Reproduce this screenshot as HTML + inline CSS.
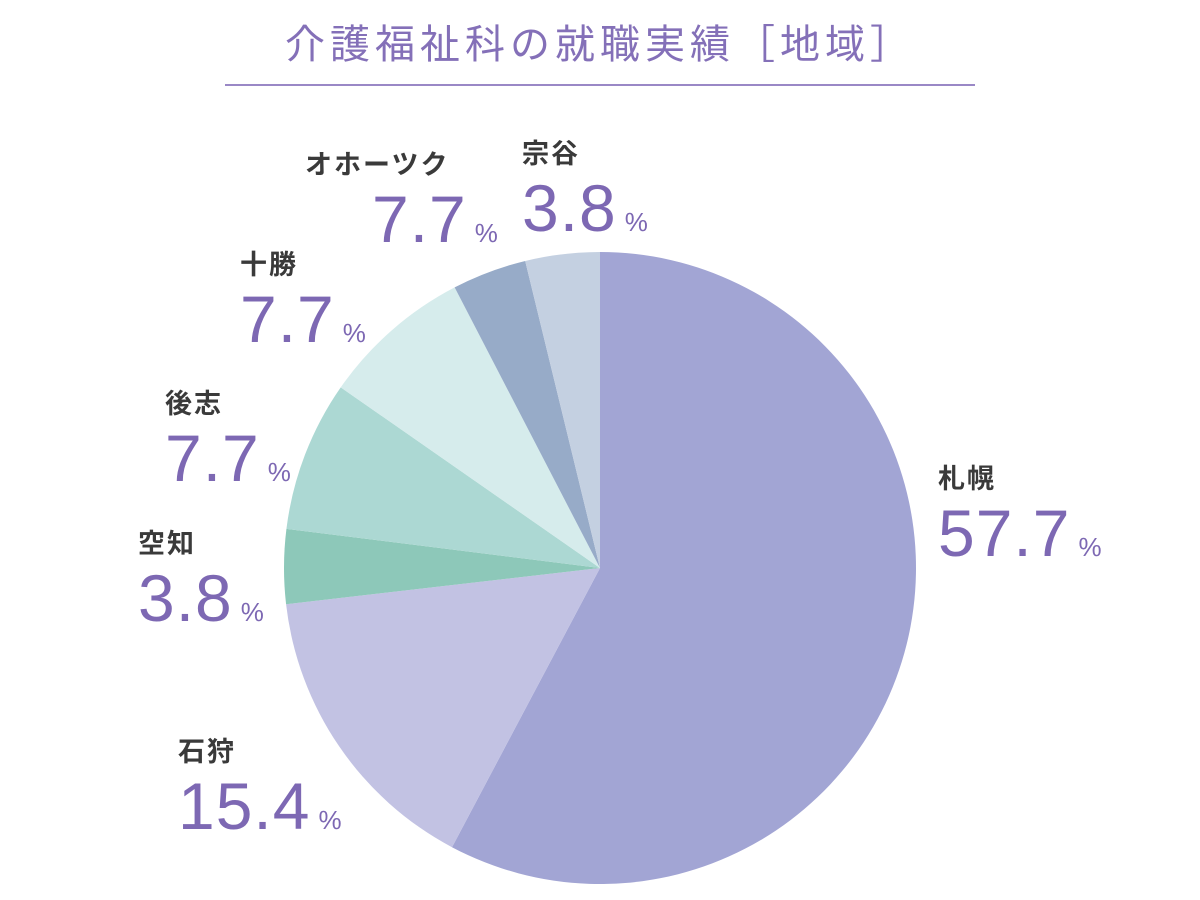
<!DOCTYPE html>
<html><head><meta charset="utf-8"><style>
html,body{margin:0;padding:0;background:#fff;}
body{width:1200px;height:900px;position:relative;overflow:hidden;font-family:"Liberation Sans","Noto Sans CJK JP",sans-serif;}
#title{position:absolute;left:0;width:1200px;top:12px;text-align:center;font-size:40px;color:#8470b8;letter-spacing:5px;}
#rule{position:absolute;left:225px;top:84px;width:750px;height:2px;background:#9a88c6;}
.lbl{position:absolute;}
.nm{font-size:27px;font-weight:bold;color:#3a3a3a;letter-spacing:2px;line-height:30px;font-family:"Noto Sans CJK JP",sans-serif;}
.pc{font-size:66px;color:#7d68b3;line-height:66px;letter-spacing:1px;margin-top:8px;white-space:nowrap;}
.pc span{font-size:26px;margin-left:8px;}
</style></head><body>
<div id="title">介護福祉科の就職実績［地域］</div>
<div id="rule"></div>
<svg id="pie" width="1200" height="900" style="position:absolute;left:0;top:0"></svg>
<div id="labels"></div>
<script>
const regions=["札幌","石狩","空知","後志","十勝","オホーツク","宗谷"];
const percents=[57.7,15.4,3.8,7.7,7.7,7.7,3.8];
const sliceValues=[57.7,15.4,3.8,7.7,7.7,3.8,3.8];
const colors=["#a2a5d4","#c2c2e3","#8dc8b9","#acd8d3","#d6ecec","#97abc8","#c4d0e1"];
const labelPos=[[938,462],[178,735],[138,527],[165,387],[240,248],[305,148],[522,137]];
const numOffset=[0,0,0,0,0,67,0];
const cx=600,cy=568,r=316;
const svg=document.getElementById('pie');
const total=sliceValues.reduce((a,b)=>a+b,0);
function pt(a){return [cx+r*Math.sin(a),cy-r*Math.cos(a)];}
let acc=0;
sliceValues.forEach((v,i)=>{
  const a0=acc/total*2*Math.PI; acc+=v; const a1=acc/total*2*Math.PI;
  const p0=pt(a0),p1=pt(a1);
  const large=(a1-a0)>Math.PI?1:0;
  const p=document.createElementNS('http://www.w3.org/2000/svg','path');
  p.setAttribute('d',`M${cx},${cy}L${p0[0]},${p0[1]}A${r},${r} 0 ${large} 1 ${p1[0]},${p1[1]}Z`);
  p.setAttribute('fill',colors[i]);
  
  
  svg.appendChild(p);
});
const L=document.getElementById('labels');
regions.forEach((n,i)=>{
  const d=document.createElement('div');
  d.className='lbl';
  d.style.left=labelPos[i][0]+'px';d.style.top=labelPos[i][1]+'px';
  
  
  d.innerHTML=`<div class="nm">${n}</div><div class="pc" style="margin-left:${numOffset[i]}px">${percents[i].toFixed(1)}<span>%</span></div>`;
  L.appendChild(d);
});
</script>
</body></html>
